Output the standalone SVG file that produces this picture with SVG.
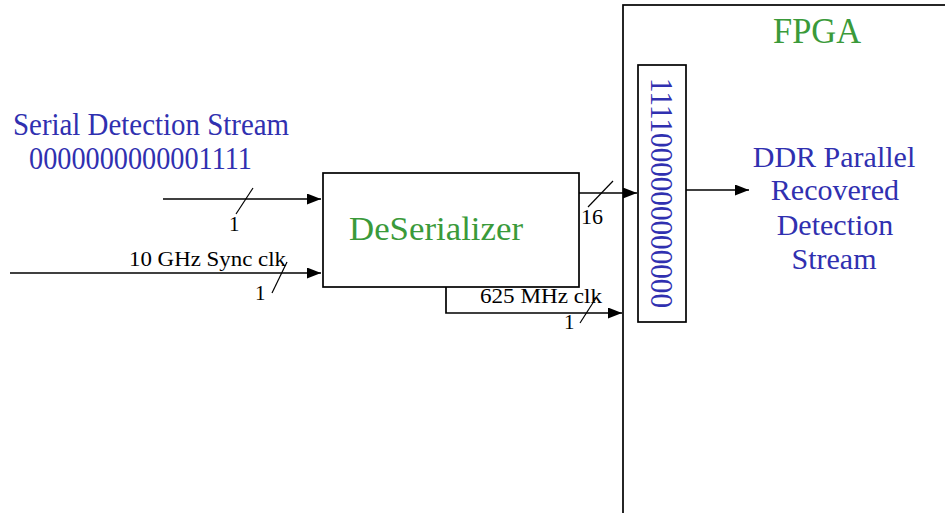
<svg xmlns="http://www.w3.org/2000/svg" width="945" height="513" viewBox="0 0 945 513">
<defs>
<marker id="ah" markerUnits="userSpaceOnUse" markerWidth="15" markerHeight="11" refX="14" refY="5.5" orient="auto">
<path d="M0,0 L14,5.5 L0,11 Z" fill="#000"/>
</marker>
<style>
.box{fill:#fff;stroke:#000;stroke-width:1.7}
.ln{fill:none;stroke:#000;stroke-width:1.7}
.sl{fill:none;stroke:#000;stroke-width:1.2}
text{font-family:'Liberation Serif','DejaVu Serif',serif}
.blue{fill:#3030b0}
.green{fill:#3a9a3a}
.lbl{fill:#000;font-size:21px}
</style>
</defs>
<rect width="945" height="513" fill="#fff"/>
<g id="fpga">
<rect class="box" x="623" y="5" width="340" height="530"/>
<text class="green" x="773" y="43" font-size="36" textLength="88" lengthAdjust="spacingAndGlyphs">FPGA</text>
</g>
<g id="input-label">
<text class="blue" x="13" y="135" font-size="32" textLength="276" lengthAdjust="spacingAndGlyphs">Serial Detection Stream</text>
<text class="blue" x="29" y="169" font-size="31" textLength="223" lengthAdjust="spacingAndGlyphs">0000000000001111</text>
</g>
<g id="deserializer">
<rect class="box" x="323" y="173" width="256" height="114"/>
<text class="green" x="349" y="240" font-size="33" textLength="174" lengthAdjust="spacingAndGlyphs">DeSerializer</text>
</g>
<g id="register">
<rect class="box" x="638" y="65" width="48" height="257"/>
<text class="blue" transform="translate(651,78) rotate(90)" font-size="31" textLength="230" lengthAdjust="spacingAndGlyphs">1111000000000000</text>
</g>
<g id="output-label">
<text class="blue" font-size="30" text-anchor="middle"><tspan x="834" y="167">DDR Parallel</tspan><tspan x="835" y="200">Recovered</tspan><tspan x="835" y="235">Detection</tspan><tspan x="834" y="269">Stream</tspan></text>
</g>
<g id="connectors">
<line class="ln" x1="163" y1="199" x2="321" y2="199" marker-end="url(#ah)"/>
<line class="sl" x1="253" y1="188" x2="236" y2="214"/>
<text class="lbl" x="229" y="231">1</text>
<line class="ln" x1="10" y1="273" x2="321" y2="273" marker-end="url(#ah)"/>
<line class="sl" x1="287" y1="262" x2="272" y2="293"/>
<text class="lbl" x="129" y="266" textLength="157" lengthAdjust="spacingAndGlyphs">10 GHz Sync clk</text>
<text class="lbl" x="255" y="300">1</text>
<line class="ln" x1="579" y1="193" x2="637" y2="193" marker-end="url(#ah)"/>
<line class="sl" x1="613" y1="181" x2="588" y2="207"/>
<text class="lbl" x="581" y="224" textLength="22" lengthAdjust="spacingAndGlyphs">16</text>
<polyline class="ln" points="446,287 446,313 622,313" marker-end="url(#ah)"/>
<line class="sl" x1="596" y1="298" x2="580" y2="323"/>
<text class="lbl" x="480" y="303" textLength="122" lengthAdjust="spacingAndGlyphs">625 MHz clk</text>
<text class="lbl" x="564" y="329">1</text>
<line class="ln" x1="686" y1="190" x2="749" y2="190" marker-end="url(#ah)"/>
</g>
</svg>
